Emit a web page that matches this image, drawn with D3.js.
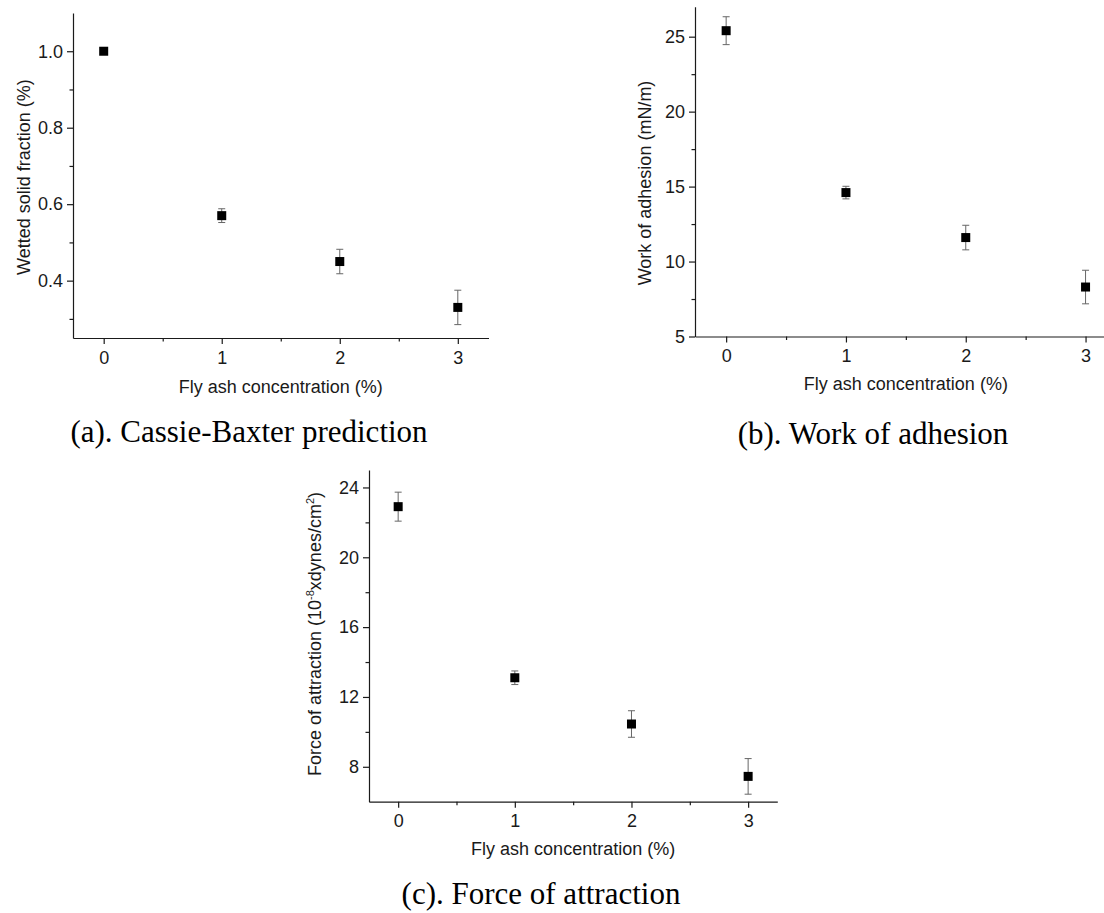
<!DOCTYPE html>
<html>
<head>
<meta charset="utf-8">
<script src="https://cdn.jsdelivr.net/npm/d3@7"></script>
<style>
  html, body { margin: 0; padding: 0; background: #fff; }
  svg { display: block; }
  .axis text { font-family: "Liberation Sans", Arial, sans-serif; font-size: 18px; fill: #1a1a1a; }
  .axis path, .axis line { stroke: #1a1a1a; stroke-width: 1.2; }
  .title { font-family: "Liberation Sans", Arial, sans-serif; font-size: 18px; fill: #1a1a1a; }
  .caption { font-family: "Liberation Serif", "Times New Roman", serif; font-size: 31px; fill: #000; }
</style>
</head>
<body>
<svg id="fig" width="1104" height="913"></svg>
<script>
// Fly ash concentration (%) shared by all three panels
const concentration = [0, 1, 2, 3];
const xTicks = [0, 1, 2, 3];
const xMinorTicks = [0.5, 1.5, 2.5];

// (a) Cassie-Baxter wetted solid fraction
const wettedFraction = [1.0, 0.57, 0.45, 0.33];
const wettedFractionErr = [0.0, 0.018, 0.032, 0.045];
const wettedTicks = [0.4, 0.6, 0.8, 1.0];
const wettedMinorTicks = [0.3, 0.5, 0.7, 0.9];

// (b) Work of adhesion (mN/m)
const workAdhesion = [25.4, 14.6, 11.6, 8.3];
const workAdhesionErr = [0.93, 0.42, 0.82, 1.12];
const workTicks = [5, 10, 15, 20, 25];
const workMinorTicks = [7.5, 12.5, 17.5, 22.5];

// (c) Force of attraction (10^-8 x dynes/cm^2)
const forceAttraction = [22.9, 13.1, 10.45, 7.45];
const forceAttractionErr = [0.83, 0.39, 0.76, 1.02];
const forceTicks = [8, 12, 16, 20, 24];
const forceMinorTicks = [10, 14, 18, 22];

const svg = d3.select("#fig");

function panel(cfg) {
  const g = svg.append("g");
  const x = d3.scaleLinear().domain(cfg.xDomain).range([cfg.left, cfg.right]);
  const y = d3.scaleLinear().domain(cfg.yDomain).range([cfg.bottom, cfg.top]);

  // x axis: major + minor ticks
  g.append("g").attr("class", "axis")
    .attr("transform", `translate(0,${cfg.bottom})`)
    .call(d3.axisBottom(x).tickValues(xTicks).tickFormat(d3.format("d"))
      .tickSize(6).tickSizeOuter(0).tickPadding(7));
  g.append("g").attr("class", "axis")
    .attr("transform", `translate(0,${cfg.bottom})`)
    .call(d3.axisBottom(x).tickValues(xMinorTicks).tickFormat("")
      .tickSize(3.5).tickSizeOuter(0))
    .select(".domain").remove();

  // y axis: major + minor ticks
  g.append("g").attr("class", "axis")
    .attr("transform", `translate(${cfg.left},0)`)
    .call(d3.axisLeft(y).tickValues(cfg.yTicks).tickFormat(cfg.yFormat)
      .tickSize(6).tickSizeOuter(0).tickPadding(4));
  g.append("g").attr("class", "axis")
    .attr("transform", `translate(${cfg.left},0)`)
    .call(d3.axisLeft(y).tickValues(cfg.yMinor).tickFormat("")
      .tickSize(3.5).tickSizeOuter(0))
    .select(".domain").remove();

  // error bars
  const eb = g.append("g").attr("stroke", "#666").attr("stroke-width", 1).attr("fill", "none");
  cfg.values.forEach((v, i) => {
    const e = cfg.errors[i];
    if (!e) return;
    const cx = x(concentration[i]);
    const y1 = y(v + e), y2 = y(v - e);
    eb.append("line").attr("x1", cx).attr("x2", cx).attr("y1", y1).attr("y2", y2);
    eb.append("line").attr("x1", cx - 3.5).attr("x2", cx + 3.5).attr("y1", y1).attr("y2", y1);
    eb.append("line").attr("x1", cx - 3.5).attr("x2", cx + 3.5).attr("y1", y2).attr("y2", y2);
  });

  // square markers
  const s = 9;
  g.append("g").selectAll("rect").data(cfg.values).join("rect")
    .attr("x", (d, i) => x(concentration[i]) - s / 2)
    .attr("y", d => y(d) - s / 2)
    .attr("width", s).attr("height", s)
    .attr("fill", "#000");

  // x title
  const xMid = (x.range()[0] + x.range()[1]) / 2;
  g.append("text").attr("class", "title")
    .attr("x", xMid).attr("y", cfg.bottom + cfg.xTitleOffset)
    .attr("text-anchor", "middle")
    .text("Fly ash concentration (%)");

  // y title (rotated)
  const yt = g.append("text").attr("class", "title")
    .attr("transform", `translate(${cfg.left - cfg.yTitleOffset},${cfg.yTitleCenter}) rotate(-90)`)
    .attr("text-anchor", "middle");
  cfg.yTitle(yt);

  // caption
  g.append("text").attr("class", "caption")
    .attr("x", cfg.captionX).attr("y", cfg.captionY)
    .attr("text-anchor", "middle")
    .text(cfg.caption);
}

panel({
  left: 73, right: 488.5, top: 13, bottom: 338,
  xDomain: [-0.26, 3.26], yDomain: [0.25, 1.1],
  yTicks: wettedTicks, yMinor: wettedMinorTicks, yFormat: d3.format(".1f"),
  values: wettedFraction, errors: wettedFractionErr,
  xTitleOffset: 55, yTitleOffset: 43, yTitleCenter: 177,
  yTitle: t => t.text("Wetted solid fraction (%)"),
  caption: "(a). Cassie-Baxter prediction", captionX: 249, captionY: 442
});

panel({
  left: 695, right: 1116.7, top: 6.7, bottom: 336.5,
  xDomain: [-0.26, 3.26], yDomain: [5, 27],
  yTicks: workTicks, yMinor: workMinorTicks, yFormat: d3.format("d"),
  values: workAdhesion, errors: workAdhesionErr,
  xTitleOffset: 53, yTitleOffset: 44, yTitleCenter: 183,
  yTitle: t => t.text("Work of adhesion (mN/m)"),
  caption: "(b). Work of adhesion", captionX: 873, captionY: 444
});

panel({
  left: 369, right: 777.3, top: 470, bottom: 801.7,
  xDomain: [-0.25, 3.25], yDomain: [6, 25],
  yTicks: forceTicks, yMinor: forceMinorTicks, yFormat: d3.format("d"),
  values: forceAttraction, errors: forceAttractionErr,
  xTitleOffset: 53.5, yTitleOffset: 48, yTitleCenter: 634,
  yTitle: t => {
    t.append("tspan").text("Force of attraction (10");
    t.append("tspan").attr("dy", -7).attr("font-size", 11).text("-8");
    t.append("tspan").attr("dy", 7).text("xdynes/cm");
    t.append("tspan").attr("dy", -7).attr("font-size", 11).text("2");
    t.append("tspan").attr("dy", 7).text(")");
  },
  caption: "(c). Force of attraction", captionX: 541, captionY: 904
});
</script>
</body>
</html>
